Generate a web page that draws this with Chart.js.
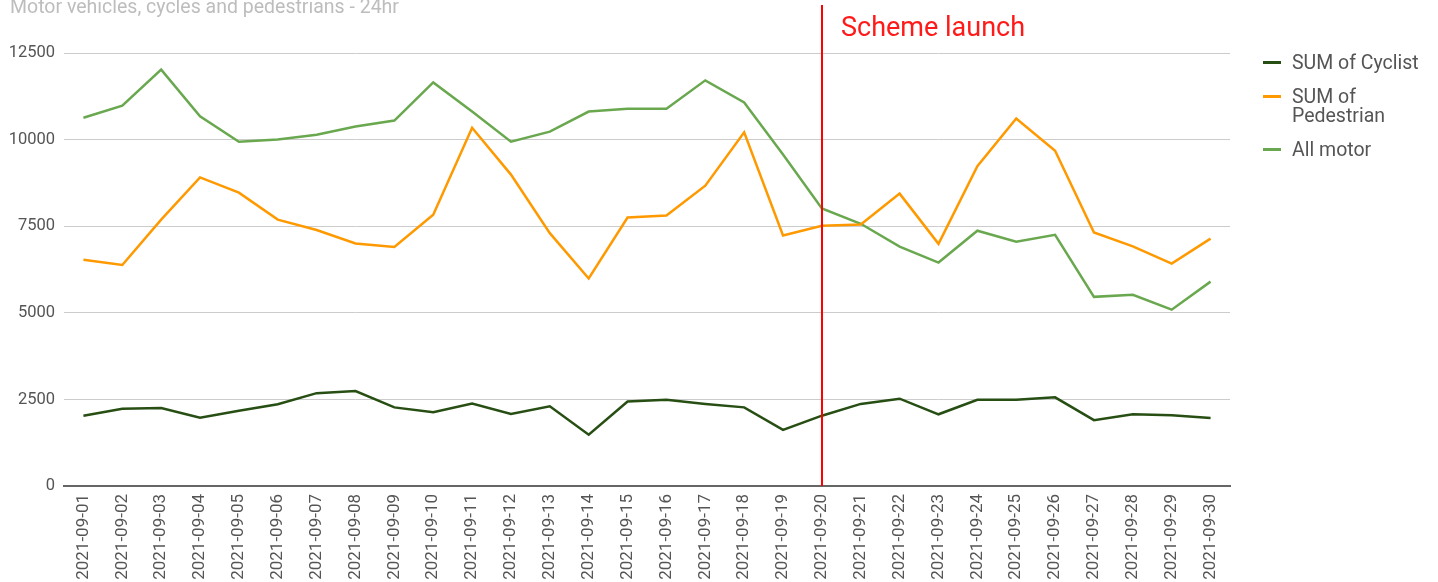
<!DOCTYPE html>
<html>
<head>
<meta charset="utf-8">
<script src="https://cdn.jsdelivr.net/npm/chart.js@4/dist/chart.umd.min.js"></script>
<style>
  html, body { margin: 0; padding: 0; background: #fff; }
  #wrap { position: relative; width: 1438px; height: 582px; overflow: hidden; }
  #chart { position: absolute; left: 0; top: 0; }
  #legend { position: absolute; left: 1263px; top: 53px; font-family: Roboto, sans-serif; font-size: 19.5px; line-height: 19px; color: #555; }
  .item { display: flex; align-items: flex-start; margin-bottom: 15px; }
  .mark { width: 18px; height: 3px; margin-top: 8px; margin-right: 11px; flex: none; }
  .txt { width: 140px; }
</style>
</head>
<body>
<div id="wrap">
  <canvas id="chart" width="1438" height="582"></canvas>
  <div id="legend"></div>
</div>
<script>
const chartTitle = 'Motor vehicles, cycles and pedestrians - 24hr';
const dates = ['2021-09-01','2021-09-02','2021-09-03','2021-09-04','2021-09-05','2021-09-06','2021-09-07','2021-09-08','2021-09-09','2021-09-10',
  '2021-09-11','2021-09-12','2021-09-13','2021-09-14','2021-09-15','2021-09-16','2021-09-17','2021-09-18','2021-09-19','2021-09-20',
  '2021-09-21','2021-09-22','2021-09-23','2021-09-24','2021-09-25','2021-09-26','2021-09-27','2021-09-28','2021-09-29','2021-09-30'];
const cyclist = [2030,2230,2250,1970,2170,2360,2680,2740,2270,2130,2380,2080,2300,1480,2440,2490,2370,2270,1620,2030,2370,2520,2070,2490,2490,2560,1900,2070,2040,1960];
const pedestrian = [6530,6380,7690,8910,8470,7690,7390,7000,6900,7830,10340,8990,7300,5990,7750,7810,8670,10210,7230,7510,7550,8440,6990,9230,10610,9680,7320,6920,6420,7140];
const allMotor = [10630,10980,12020,10670,9940,10000,10140,10380,10550,11650,10810,9940,10230,10810,10890,10890,11710,11070,9570,8010,7570,6910,6450,7370,7050,7250,5460,5520,5090,5900];
const seriesNames = ['SUM of Cyclist', 'SUM of Pedestrian', 'All motor'];
const yTicks = [0, 2500, 5000, 7500, 10000, 12500];
const launchDate = '2021-09-20';
const launchLabel = 'Scheme launch';

const FONT = 'Roboto, sans-serif';

const overlay = {
  id: 'overlay',
  afterDatasetsDraw(chart) {
    const ctx = chart.ctx;
    const xs = chart.scales.x;
    const x = Math.round(xs.getPixelForValue(dates.indexOf(launchDate)));
    ctx.save();
    ctx.strokeStyle = '#ff0000';
    ctx.lineWidth = 2;
    ctx.beginPath();
    ctx.moveTo(x, 5);
    ctx.lineTo(x, chart.chartArea.bottom);
    ctx.stroke();
    ctx.fillStyle = '#ff1a1a';
    ctx.font = '27px ' + FONT;
    ctx.textAlign = 'left';
    ctx.textBaseline = 'alphabetic';
    ctx.fillText(launchLabel, x + 19, 36);
    ctx.fillStyle = '#bdbdbd';
    ctx.font = '19.5px ' + FONT;
    ctx.fillText(chartTitle, 10, 13);
    ctx.restore();
  }
};

const chart = new Chart(document.getElementById('chart'), {
  type: 'line',
  data: {
    labels: dates,
    datasets: [
      { label: seriesNames[0], data: cyclist, borderColor: '#274e13', backgroundColor: '#274e13' },
      { label: seriesNames[1], data: pedestrian, borderColor: '#ff9900', backgroundColor: '#ff9900' },
      { label: seriesNames[2], data: allMotor, borderColor: '#6aa84f', backgroundColor: '#6aa84f' }
    ]
  },
  options: {
    responsive: false,
    animation: false,
    devicePixelRatio: 1,
    layout: { padding: { top: 53, right: 208, left: 0, bottom: 0 } },
    elements: { line: { borderWidth: 2.5, tension: 0 }, point: { radius: 0 } },
    plugins: { legend: { display: false }, title: { display: false }, tooltip: { enabled: false } },
    scales: {
      x: {
        offset: true,
        grid: { display: false, drawTicks: false },
        border: { display: true, color: '#666', width: 2 },
        ticks: { autoSkip: false, minRotation: 90, maxRotation: 90, padding: 8, color: '#555', font: { family: FONT, size: 17 } },
        afterFit(s) { s.height = 96; }
      },
      y: {
        min: 0, max: 12500,
        afterBuildTicks(s) { s.ticks = yTicks.map(v => ({ value: v })); },
        grid: { drawTicks: false, color: ctx => ctx.tick && ctx.tick.value === 0 ? 'rgba(0,0,0,0)' : '#cccccc', lineWidth: 1 },
        border: { display: false },
        ticks: { padding: 9, color: '#555', font: { family: FONT, size: 16.5 }, callback: v => String(v) },
        afterFit(s) { s.width = 64; }
      }
    }
  },
  plugins: [overlay]
});

const legendEl = document.getElementById('legend');
chart.data.datasets.forEach(ds => {
  const item = document.createElement('div');
  item.className = 'item';
  const m = document.createElement('div');
  m.className = 'mark';
  m.style.background = ds.borderColor;
  const t = document.createElement('div');
  t.className = 'txt';
  t.textContent = ds.label;
  item.appendChild(m); item.appendChild(t);
  legendEl.appendChild(item);
});
</script>
</body>
</html>
